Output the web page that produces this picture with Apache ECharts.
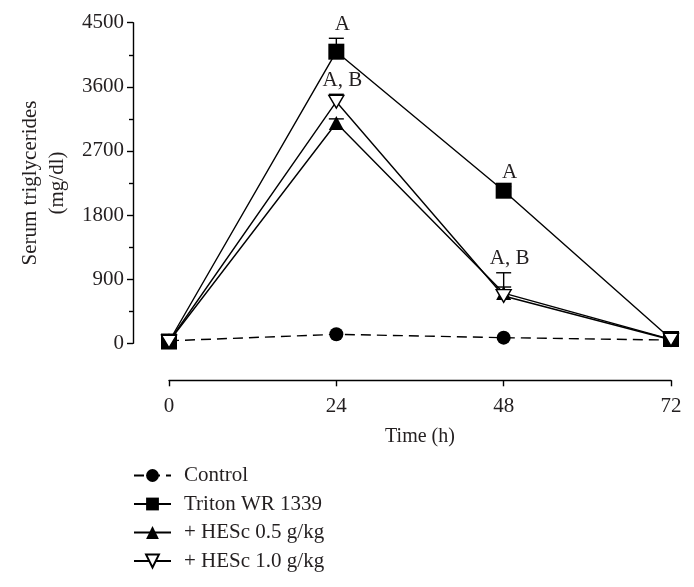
<!DOCTYPE html>
<html><head><meta charset="utf-8">
<script src="https://cdn.jsdelivr.net/npm/echarts@6/dist/echarts.min.js"></script>
<style>html,body{margin:0;padding:0;background:#fff}#c{width:694px;height:587px}</style>
</head><body><div id="c"></div>
<script>
// Data
var hours = [0, 24, 48, 72];
var seriesNames = ['Control', 'Triton WR 1339', '+ HESc 0.5 g/kg', '+ HESc 1.0 g/kg'];
var control = [35, 126, 79, 45];
var triton = [25, 4093, 2142, 60];
var hesc05 = [25, 3092, 705, 55];
var hesc10 = [25, 3391, 664, 50];
// error bar tops (mean + SE)
var tritonErr = [null, 4281, 2200, null];
var hesc05Err = [null, 3150, 990, null];
var hesc10Err = [null, 3495, 790, null];
// significance letters: [hour, value at which letter sits above, text]
var letters = [[24, 4281, 'A'], [48, 2200, 'A'], [24, 3495, 'A, B'], [48, 990, 'A, B']];
var yTicks = [0, 900, 1800, 2700, 3600, 4500];

var FONT = 'Liberation Serif';
var TXT = '#231f20';
var LW = 1.4;

function errData(means, tops) {
  var out = [];
  for (var i = 0; i < hours.length; i++) if (tops[i] != null) out.push([hours[i], means[i], tops[i]]);
  return out;
}
var errAll = errData(triton, tritonErr).concat(errData(hesc05, hesc05Err)).concat(errData(hesc10, hesc10Err));

function pairs(arr) { return hours.map(function (h, i) { return [h, arr[i]]; }); }

var chart = echarts.init(document.getElementById('c'), null, {renderer: 'canvas'});
var base = {type: 'line', symbolKeepAspect: true, lineStyle: {color: '#000', width: LW}, itemStyle: {color: '#000'}, z: 3};
chart.setOption({
  animation: false,
  grid: {left: 169, right: 23, top: 22.7, bottom: 243.7},
  xAxis: {
    type: 'value', min: 0, max: 72, interval: 24, offset: 37,
    name: 'Time (h)', nameLocation: 'middle', nameGap: 46,
    nameTextStyle: {fontFamily: FONT, fontSize: 20, color: TXT},
    axisLine: {onZero: false, lineStyle: {color: '#000', width: LW}},
    axisTick: {inside: false, length: 6, lineStyle: {color: '#000', width: LW}},
    axisLabel: {fontFamily: FONT, fontSize: 21, color: TXT, margin: 16},
    splitLine: {show: false}
  },
  yAxis: {
    type: 'value', min: 0, max: 4500, interval: 900, offset: 36,
    name: 'Serum triglycerides\n(mg/dl)', nameLocation: 'middle', nameGap: 60,
    nameTextStyle: {fontFamily: FONT, fontSize: 21, color: TXT, lineHeight: 27},
    axisLine: {onZero: false, lineStyle: {color: '#000', width: LW}},
    axisTick: {length: 6, lineStyle: {color: '#000', width: LW}},
    minorTick: {show: true, splitNumber: 2, length: 4, lineStyle: {color: '#000', width: LW}},
    axisLabel: {fontFamily: FONT, fontSize: 21, color: TXT, margin: 9, formatter: function (v) { return String(v); }},
    splitLine: {show: false}
  },
  legend: {
    orient: 'vertical', left: 128, top: 460, itemWidth: 37, itemHeight: 16, itemGap: 7.5,
    textStyle: {fontFamily: FONT, fontSize: 21, color: TXT, padding: [0, 0, 0, 8]},
    data: seriesNames
  },
  series: [
    Object.assign({}, base, {name: seriesNames[0], data: pairs(control), symbol: 'circle', symbolSize: 14,
      lineStyle: {color: '#000', width: LW, type: [10, 6]}}),
    Object.assign({}, base, {name: seriesNames[1], data: pairs(triton), symbol: 'rect', symbolSize: 16}),
    Object.assign({}, base, {name: seriesNames[2], data: pairs(hesc05), symbol: 'triangle', symbolSize: [15, 14]}),
    Object.assign({}, base, {name: seriesNames[3], data: pairs(hesc10), symbol: 'path://M0,0 L10,0 L5,9 Z', symbolSize: [15, 14],
      itemStyle: {color: '#fff', borderColor: '#000', borderWidth: LW}, z: 4}),
    {
      type: 'custom', name: 'err', data: errAll, z: 2, silent: true,
      renderItem: function (params, api) {
        var x = api.value(0);
        var m = api.coord([x, api.value(1)]);
        var t = api.coord([x, api.value(2)]);
        var w = 7.5;
        return {type: 'group', children: [
          {type: 'line', shape: {x1: m[0], y1: m[1], x2: t[0], y2: t[1]}, style: {stroke: '#000', lineWidth: LW}},
          {type: 'line', shape: {x1: t[0] - w, y1: t[1], x2: t[0] + w, y2: t[1]}, style: {stroke: '#000', lineWidth: LW}}
        ]};
      }
    },
    {
      type: 'custom', name: 'letters', data: letters, z: 5, silent: true,
      renderItem: function (params, api) {
        var p = api.coord([api.value(0), api.value(1)]);
        return {type: 'text', style: {text: letters[params.dataIndex][2], x: p[0] + 6, y: p[1] - 14,
          textAlign: 'center', textVerticalAlign: 'middle', font: '21px "' + FONT + '"', fill: TXT}};
      }
    }
  ]
});
</script></body></html>
